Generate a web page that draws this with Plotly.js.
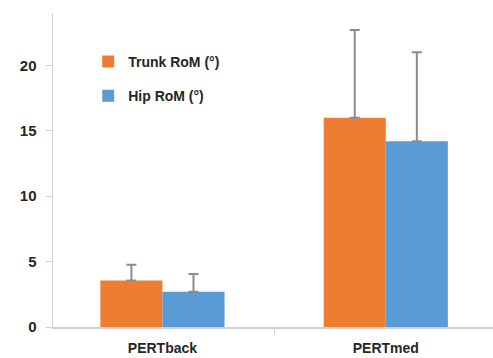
<!DOCTYPE html>
<html>
<head>
<meta charset="utf-8">
<script src="https://cdn.plot.ly/plotly-3.0.1.min.js"></script>
<style>html,body{margin:0;padding:0;background:#fff;}#chart{width:493px;height:358px;}</style>
</head>
<body>
<div id="chart"></div>
<script>
const categories = ["PERTback", "PERTmed"];
const trunkRoM = [3.55, 16.0];
const trunkErr = [1.2, 6.7];
const hipRoM = [2.7, 14.2];
const hipErr = [1.35, 6.8];
const seriesNames = ["Trunk RoM (°)", "Hip RoM (°)"];

const errStyle = {type: "data", visible: true, symmetric: false, arrayminus: [0, 0], color: "#8c8c8c", thickness: 2, width: 5};

const traces = [
  {type: "bar", x: categories, y: trunkRoM, name: seriesNames[0], legendgroup: "a",
   marker: {color: "#ED7D31"}, error_y: Object.assign({array: trunkErr}, errStyle)},
  {type: "bar", x: categories, y: hipRoM, name: seriesNames[1], legendgroup: "b",
   marker: {color: "#5B9BD5"}, error_y: Object.assign({array: hipErr}, errStyle)}
];

const layout = {
  width: 493, height: 358,
  margin: {l: 53, r: 0, t: 13, b: 31},
  paper_bgcolor: "#fff", plot_bgcolor: "#fff",
  barmode: "group", bargap: 0.444, bargroupgap: 0,
  font: {family: "Liberation Sans, Arial, sans-serif", size: 14, color: "#262626"},
  showlegend: true,
  legend: {x: 0.08, y: 0.895, xanchor: "left", yanchor: "top", traceorder: "grouped", tracegroupgap: 13,
           font: {size: 14, color: "#262626", weight: "bold"}, bgcolor: "rgba(0,0,0,0)", itemwidth: 30},
  xaxis: {type: "category", range: [-0.49, 1.48], showline: true, linecolor: "#d0d0d0", linewidth: 1.5, ticks: "outside", tickson: "boundaries",
          ticklen: 5, tickcolor: "#d0d0d0", showgrid: false, zeroline: false, ticklabelstandoff: 8,
          tickfont: {size: 14, weight: "bold", color: "#262626"}},
  yaxis: {range: [0, 24], dtick: 5, showline: true, linecolor: "#d0d0d0", linewidth: 1.5, ticks: "outside",
          ticklen: 6, tickcolor: "#d0d0d0", showgrid: false, zeroline: false, ticklabelstandoff: 6,
          tickfont: {size: 15, weight: "bold", color: "#262626"}}
};

Plotly.newPlot("chart", traces, layout, {displayModeBar: false, staticPlot: true});
</script>
</body>
</html>
